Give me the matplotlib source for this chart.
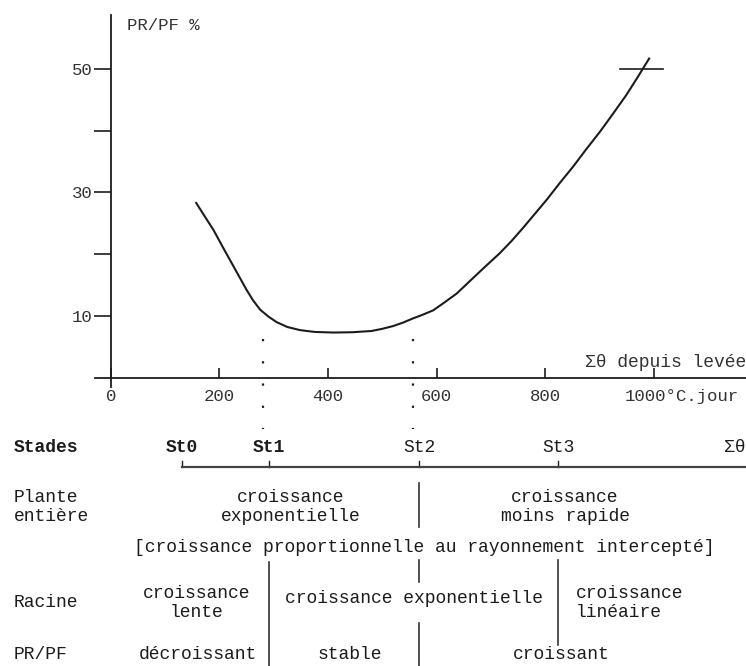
import matplotlib
matplotlib.use("Agg")
import matplotlib.pyplot as plt

plt.rcParams["font.family"] = ["Liberation Mono", "DejaVu Sans Mono", "DejaVu Sans"]

# PR/PF (%) curve vs. degree-days since emergence
dd = [157, 173, 189, 207, 226, 238, 250, 262, 275, 290, 305, 325, 348, 375,
      410, 445, 480, 500, 520, 538, 557, 575, 594, 615, 637, 667, 690, 716,
      738, 759, 781, 803, 827, 852, 876, 901, 925, 950, 971, 992]
prpf = [28.3, 26.1, 23.9, 21.0, 18.0, 16.1, 14.2, 12.5, 11.0, 9.9, 9.0, 8.2,
        7.7, 7.4, 7.3, 7.35, 7.55, 7.9, 8.35, 8.9, 9.6, 10.2, 10.9, 12.2,
        13.6, 16.1, 18.0, 20.1, 22.1, 24.2, 26.5, 28.8, 31.5, 34.2, 37.0,
        39.8, 42.7, 45.8, 48.7, 51.7]

end_mark_dd = [938, 1018]
end_mark_val = 50
dotted_dd = [280, 557]

y_major = [10, 30, 50]
y_minor = [20, 40]
x_ticks = [0, 200, 400, 600, 800, 1000]
x_labels = ["0", "200", "400", "600", "800", ""]

# phenological table
stage_names = ["St0", "St1", "St2", "St3"]
stage_dd = [131, 291, 568, 824]
row_labels = ["Stades", "Plante\nentière", "Racine", "PR/PF"]
plante_txt = ["croissance\nexponentielle", "croissance\nmoins rapide"]
plante_dd = [332, 837]
global_txt = "[croissance proportionnelle au rayonnement intercepté]"
global_dd = 578
racine_txt = ["croissance\nlente", "croissance exponentielle"]
racine_dd = [157, 559]
racine_last = "croissance\nlinéaire"
racine_last_dd = 857
prpf_txt = ["décroissant", "stable", "croissant"]
prpf_dd = [160, 441, 830]

INK = "#1c1c1c"
XMIN, XMAX = -204.6, 1170.5

fig = plt.figure(figsize=(7.46, 6.66), dpi=100)

# ---- top graph ----
ax = fig.add_axes([0, 0.3589, 1, 0.6186])
ax.set_xlim(XMIN, XMAX)
ax.set_ylim(-8, 58.75)

ax.plot(dd, prpf, color=INK, lw=1.5, solid_joinstyle="round")
ax.plot(end_mark_dd, [end_mark_val] * 2, color=INK, lw=1.2)
for x in dotted_dd:
    ax.plot([x, x], [6.3, -8.4], color=INK, lw=1.6,
            linestyle=(0, (1, 9)), clip_on=False)

for s in ["top", "right"]:
    ax.spines[s].set_visible(False)
ax.spines["left"].set_position(("data", 0))
ax.spines["left"].set_bounds(-1.5, 58.75)
ax.spines["bottom"].set_position(("data", 0))
ax.spines["bottom"].set_bounds(-29.5, XMAX)
for s in ["left", "bottom"]:
    ax.spines[s].set_linewidth(1.3)
    ax.spines[s].set_color(INK)

ax.set_yticks(y_major)
ax.set_yticks(y_minor, minor=True)
ax.set_yticklabels([str(v) for v in y_major], fontsize=12.5, color="#333333")
ax.tick_params(axis="y", which="both", direction="out", length=12.5,
               width=1.2, pad=0.5, color=INK)
ax.set_xticks(x_ticks)
ax.set_xticklabels(x_labels, fontsize=12.5, color="#333333")
ax.tick_params(axis="x", direction="in", length=7, width=1.2, pad=8, color=INK)

ax.annotate("1000°C.jour", xy=(1000, 0), xytext=(-21, -8),
            textcoords="offset points", ha="left", va="top",
            fontsize=12.5, color="#333333")
ax.text(29.5, 57.1, "PR/PF %", fontsize=12.5, color="#333333",
        ha="left", va="center")
ax.text(XMAX, 2.4, "Σθ depuis levée", fontsize=13, color="#333333",
        ha="right", va="center")

# ---- table below ----
tab = fig.add_axes([0, 0, 1, 0.3589])
tab.set_xlim(XMIN, XMAX)
tab.set_ylim(666, 427)
tab.axis("off")
tab.patch.set_visible(False)

fs = 13
lx = XMIN + 14 / 0.5425
rows_y = [448, 507, 603, 655]
for lab, y in zip(row_labels, rows_y):
    tab.text(lx, y, lab, fontsize=fs, color=INK, ha="left", va="center",
             fontweight="bold" if lab == "Stades" else "normal",
             linespacing=1.2)

for i, (name, x) in enumerate(zip(stage_names, stage_dd)):
    tab.text(x, 448, name, fontsize=fs, color=INK, ha="center", va="center",
             fontweight="bold" if i < 2 else "normal")
    tab.plot([x, x], [467, 461], color=INK, lw=1)
tab.text(XMAX - 1, 448, "Σθ", fontsize=fs, color=INK,
         ha="right", va="center")
tab.plot([stage_dd[0], XMAX], [467, 467], color="#444444", lw=1.6)

for t, x in zip(plante_txt, plante_dd):
    tab.text(x, 507, t, fontsize=fs, color=INK, ha="center", va="center",
             linespacing=1.2)
tab.text(global_dd, 548, global_txt, fontsize=fs, color=INK,
         ha="center", va="center")
for t, x in zip(racine_txt, racine_dd):
    tab.text(x, 603 if "\n" in t else 599, t, fontsize=fs, color=INK,
             ha="center", va="center", linespacing=1.2)
tab.text(racine_last_dd, 603, racine_last, fontsize=fs, color=INK,
         ha="left", va="center", linespacing=1.2)
for t, x in zip(prpf_txt, prpf_dd):
    tab.text(x, 655, t, fontsize=fs, color=INK, ha="center", va="center")

# dividers: (stage index, top, bottom)
dividers = [(2, 483, 527), (1, 562, 666), (2, 560, 582), (2, 623, 666),
            (3, 560, 645)]
for k, y0, y1 in dividers:
    tab.plot([stage_dd[k]] * 2, [y0, y1], color="#333333", lw=1.2,
             clip_on=False)

fig.savefig("out.png", dpi=100)
